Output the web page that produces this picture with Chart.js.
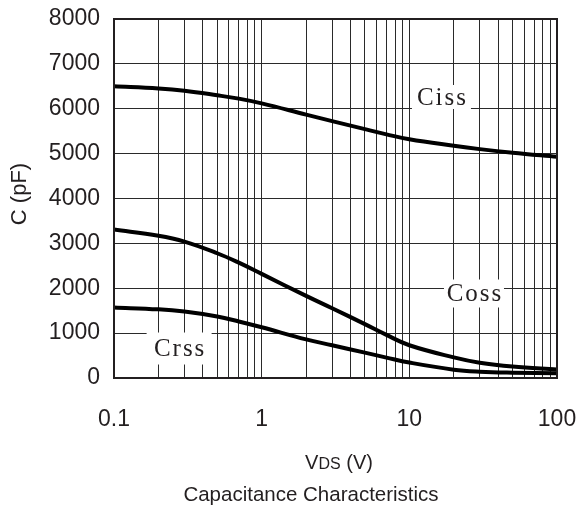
<!DOCTYPE html>
<html><head><meta charset="utf-8">
<script src="https://cdn.jsdelivr.net/npm/chart.js@4/dist/chart.umd.min.js"></script>
<style>html,body{margin:0;padding:0;background:#fff}#wrap{width:579px;height:507px}</style>
</head><body><div id="wrap"><canvas id="c" width="579" height="507"></canvas></div>
<script>
// ---- data ----
const xGridTicks = [0.1,0.2,0.3,0.4,0.5,0.6,0.7,0.8,0.9,1,2,3,4,5,6,7,8,9,10,20,30,40,50,60,70,80,90,100];
const xTickLabels = [0.1,1,10,100];
const yTickLabels = [0,1000,2000,3000,4000,5000,6000,7000,8000];

const vds  = [0.1,0.2,0.3,0.5,0.7,1,2,3,5,7,10,20,30,50,100];
const ciss = [6500,6450,6400,6300,6225,6120,5870,5725,5545,5430,5320,5175,5100,5020,4930];
const coss = [3310,3170,3040,2780,2570,2320,1830,1555,1200,960,730,460,340,255,190];
const crss = [1570,1530,1480,1370,1260,1130,860,730,565,455,345,185,140,118,105];

const seriesNames = ['Ciss','Coss','Crss'];
// label anchors (data coords) for curve names
const nameAnchors = [
  {text:'Ciss', v:16.5, c:6262, w:59, h:24},
  {text:'Coss', v:27.4, c:1883, w:60, h:28},
  {text:'Crss', v:0.276, c:657, w:65, h:32}
];

const TXT = '#231f20';
const pts = cs => vds.map((v,i)=>({x:v,y:cs[i]}));

const decor = {
  id:'decor',
  afterDatasetsDraw(chart){
    const ctx = chart.ctx, xs = chart.scales.x, ys = chart.scales.y;
    ctx.save();
    ctx.font = '25px "Liberation Serif", serif';
    try { ctx.letterSpacing = '2px'; } catch(e) {}
    ctx.textAlign = 'center'; ctx.textBaseline = 'middle';
    nameAnchors.forEach(a=>{
      const px = xs.getPixelForValue(a.v), py = ys.getPixelForValue(a.c);
      ctx.fillStyle = '#fff';
      ctx.fillRect(px - a.w/2, py - a.h/2, a.w, a.h);
      ctx.fillStyle = TXT;
      ctx.fillText(a.text, px + 1, py + 1);
    });
    ctx.restore();
  },
  afterDraw(chart){
    const ctx = chart.ctx, ca = chart.chartArea;
    ctx.save();
    ctx.strokeStyle = TXT; ctx.lineWidth = 2;
    ctx.strokeRect(ca.left, ca.top, ca.right - ca.left, ca.bottom - ca.top);
    ctx.fillStyle = TXT;
    // x axis title: V with smaller DS
    const big = '20px "Liberation Sans", Arial, sans-serif';
    const small = '16px "Liberation Sans", Arial, sans-serif';
    ctx.textBaseline = 'alphabetic'; ctx.textAlign = 'left';
    ctx.font = big; const w1 = ctx.measureText('V').width, w3 = ctx.measureText(' (V)').width;
    ctx.font = small; const w2 = ctx.measureText('DS').width;
    let x0 = 339 - (w1+w2+w3)/2; const by = 469;
    ctx.font = big; ctx.fillText('V', x0, by);
    ctx.font = small; ctx.fillText('DS', x0 + w1, by);
    ctx.font = big; ctx.fillText(' (V)', x0 + w1 + w2, by);
    // caption
    ctx.font = '20.5px "Liberation Sans", Arial, sans-serif';
    ctx.textAlign = 'center';
    ctx.fillText('Capacitance Characteristics', 311, 501);
    // y title
    ctx.translate(20, 194); ctx.rotate(-Math.PI/2);
    ctx.font = '22px "Liberation Sans", Arial, sans-serif';
    ctx.textBaseline = 'middle';
    ctx.fillText('C (pF)', 0, 0);
    ctx.restore();
  }
};

const lineStyle = {borderColor:'#000', borderWidth:4, pointRadius:0, fill:false, tension:0.4, borderCapStyle:'butt', borderJoinStyle:'round'};

new Chart(document.getElementById('c'), {
  type:'line',
  data:{datasets:[
    Object.assign({label:seriesNames[0], data:pts(ciss)}, lineStyle),
    Object.assign({label:seriesNames[1], data:pts(coss)}, lineStyle),
    Object.assign({label:seriesNames[2], data:pts(crss)}, lineStyle)
  ]},
  options:{
    responsive:false, animation:false, devicePixelRatio:1,
    layout:{padding:{top:19, right:22, left:0, bottom:0}},
    plugins:{legend:{display:false}, tooltip:{enabled:false}, title:{display:false}},
    scales:{
      x:{type:'logarithmic', min:0.1, max:100,
        afterBuildTicks:s=>{ s.ticks = xGridTicks.map(v=>({value:v})); },
        afterFit:s=>{ s.height = 129; s.paddingLeft = 0; s.paddingRight = 0; s.paddingTop = 0; s.paddingBottom = 0; },
        ticks:{autoSkip:false, maxRotation:0, padding:28, color:TXT,
          font:{family:'"Liberation Sans", Arial, sans-serif', size:23},
          callback:v=> xTickLabels.includes(v) ? String(v) : ''},
        grid:{color:'#2a2a2a', lineWidth:1, drawTicks:false},
        border:{display:true, color:TXT, width:2}
      },
      y:{type:'linear', min:0, max:8000,
        afterFit:s=>{ s.width = 114; s.paddingLeft = 0; s.paddingRight = 0; s.paddingTop = 0; s.paddingBottom = 0; },
        ticks:{stepSize:500, padding:14, color:TXT,
          font:{family:'"Liberation Sans", Arial, sans-serif', size:23},
          callback:v=> yTickLabels.includes(v) ? String(v) : ''},
        grid:{color:'#2a2a2a', lineWidth:1, drawTicks:false},
        border:{display:true, color:TXT, width:2}
      }
    }
  },
  plugins:[decor]
});
</script></body></html>
